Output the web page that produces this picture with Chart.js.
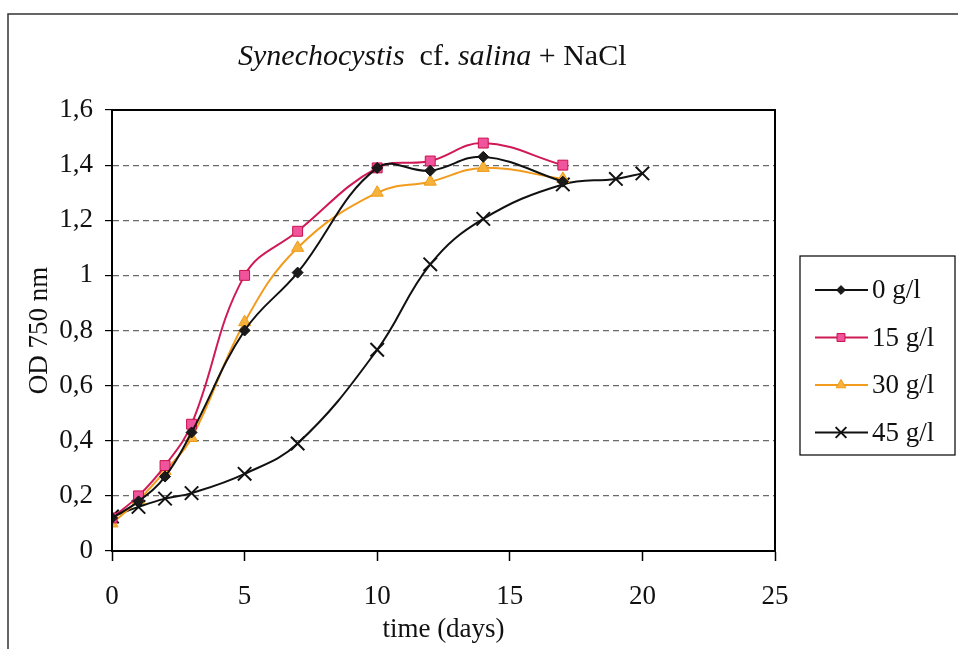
<!DOCTYPE html>
<html>
<head>
<meta charset="utf-8">
<script src="https://cdn.jsdelivr.net/npm/chart.js@4/dist/chart.umd.min.js"></script>
<style>
  html, body { margin: 0; padding: 0; background: #fff; }
  #wrap { position: relative; width: 958px; height: 649px; }
  #titre {
    position: absolute; left: 238px; top: 40px;
    font-family: "Liberation Serif", "Times New Roman", serif;
    font-size: 30px; line-height: 1; color: #111; white-space: nowrap;
  }
  #titre i { font-style: italic; }
</style>
</head>
<body>
<div id="wrap">
  <canvas id="graf" width="958" height="649"></canvas>
  <div id="titre"><i>Synechocystis</i>&nbsp; cf. <i>salina</i> + NaCl</div>
</div>
<script>
// dados
const dias = [0, 1, 2, 3, 5, 7, 10, 12, 14, 17];
const dias45 = [0, 1, 2, 3, 5, 7, 10, 12, 14, 17, 19, 20];

const od0 = [0.12, 0.18, 0.27, 0.43, 0.80, 1.01, 1.39, 1.38, 1.43, 1.34];
const od15 = [0.12, 0.20, 0.31, 0.46, 1.00, 1.16, 1.39, 1.415, 1.48, 1.40];
const od30 = [0.10, 0.185, 0.29, 0.41, 0.83, 1.10, 1.30, 1.34, 1.39, 1.35];
const od45 = [0.125, 0.16, 0.19, 0.21, 0.28, 0.39, 0.73, 1.04, 1.205, 1.33, 1.35, 1.37];

const rotulos = ["0 g/l", "15 g/l", "30 g/l", "45 g/l"];

const FONTE = "'Liberation Serif', 'Times New Roman', serif";

const pares = (xs, ys) => xs.map((x, i) => ({ x, y: ys[i] }));

/* moldura externa + moldura da área do gráfico */
const moldura = {
  id: "moldura",
  afterDraw(chart) {
    const { ctx, chartArea: a } = chart;
    ctx.save();
    ctx.strokeStyle = "#000";
    ctx.lineWidth = 2;
    ctx.strokeRect(a.left, a.top, a.right - a.left, a.bottom - a.top);
    ctx.strokeStyle = "#333";
    ctx.lineWidth = 1.5;
    ctx.beginPath();
    ctx.moveTo(8, 649);
    ctx.lineTo(8, 14);
    ctx.lineTo(958, 14);
    ctx.stroke();
    ctx.restore();
  }
};

/* legenda manual com caixa */
const legenda = {
  id: "legenda",
  afterDraw(chart) {
    const { ctx } = chart;
    ctx.save();
    ctx.strokeStyle = "#000";
    ctx.lineWidth = 1.2;
    ctx.strokeRect(800, 256, 155, 199);
    chart.data.datasets.forEach((ds, i) => {
      const y = 290 + i * 47.5;
      ctx.strokeStyle = ds.borderColor;
      ctx.lineWidth = 2;
      ctx.beginPath();
      ctx.moveTo(815, y);
      ctx.lineTo(868, y);
      ctx.stroke();
      ctx.fillStyle = ds.pointBackgroundColor;
      ctx.strokeStyle = ds.pointBorderColor;
      ctx.lineWidth = ds.pointBorderWidth;
      Chart.helpers.drawPoint(ctx, {
        pointStyle: ds.pointStyle,
        radius: ds.pointRadius * 0.8,
        borderWidth: ds.pointBorderWidth,
        rotation: 0
      }, 841, y);
      ctx.fillStyle = "#111";
      ctx.font = "27px " + FONTE;
      ctx.textBaseline = "middle";
      ctx.textAlign = "left";
      ctx.fillText(ds.label, 872, y + 1);
    });
    ctx.restore();
  }
};

new Chart(document.getElementById("graf"), {
  type: "line",
  plugins: [moldura, legenda],
  data: {
    datasets: [
      {
        label: rotulos[0],
        data: pares(dias, od0),
        borderColor: "#111",
        borderWidth: 2,
        pointStyle: "rectRot",
        pointRadius: 5.5,
        pointBackgroundColor: "#1a1a1a",
        pointBorderColor: "#111",
        pointBorderWidth: 1,
        tension: 0.4
      },
      {
        label: rotulos[1],
        data: pares(dias, od15),
        borderColor: "#d01a55",
        borderWidth: 2,
        pointStyle: "rect",
        pointRadius: 7,
        pointBackgroundColor: "#f0549c",
        pointBorderColor: "#c8104a",
        pointBorderWidth: 1,
        tension: 0.4
      },
      {
        label: rotulos[2],
        data: pares(dias, od30),
        borderColor: "#f29b1c",
        borderWidth: 2,
        pointStyle: "triangle",
        pointRadius: 7,
        pointBackgroundColor: "#f7b23c",
        pointBorderColor: "#ee9a18",
        pointBorderWidth: 1,
        tension: 0.4
      },
      {
        label: rotulos[3],
        data: pares(dias45, od45),
        borderColor: "#111",
        borderWidth: 2,
        pointStyle: "crossRot",
        pointRadius: 9.5,
        pointBackgroundColor: "#111",
        pointBorderColor: "#111",
        pointBorderWidth: 2,
        tension: 0.4
      }
    ]
  },
  options: {
    responsive: false,
    animation: false,
    layout: { padding: { left: 0, right: 183, top: 110, bottom: 0 } },
    plugins: {
      legend: { display: false },
      title: { display: false },
      tooltip: { enabled: false }
    },
    scales: {
      x: {
        type: "linear",
        min: 0,
        max: 25,
        ticks: {
          stepSize: 5,
          color: "#111",
          padding: 20,
          font: { family: FONTE, size: 27 }
        },
        grid: {
          drawOnChartArea: false,
          tickLength: 10,
          tickColor: "#000",
          tickWidth: 1.5
        },
        border: { color: "#000", width: 2 },
        title: {
          display: true,
          text: "time (days)",
          color: "#111",
          font: { family: FONTE, size: 27 },
          padding: { top: 0, bottom: 3 }
        },
        afterFit(scale) { scale.height = 98; }
      },
      y: {
        min: 0,
        max: 1.6,
        ticks: {
          stepSize: 0.2,
          color: "#111",
          padding: 12,
          font: { family: FONTE, size: 27 },
          callback: v => String(Math.round(v * 10) / 10).replace(".", ",")
        },
        grid: {
          color: "#6a6a6a",
          lineWidth: 1.2,
          tickLength: 7,
          tickColor: "#000",
          tickBorderDash: []
        },
        border: { color: "#000", width: 2, dash: [6, 4] },
        title: {
          display: true,
          text: "OD 750 nm",
          color: "#111",
          font: { family: FONTE, size: 27 },
          padding: { top: 24, bottom: 0 }
        },
        afterFit(scale) { scale.width = 112; }
      }
    }
  }
});
</script>
</body>
</html>
